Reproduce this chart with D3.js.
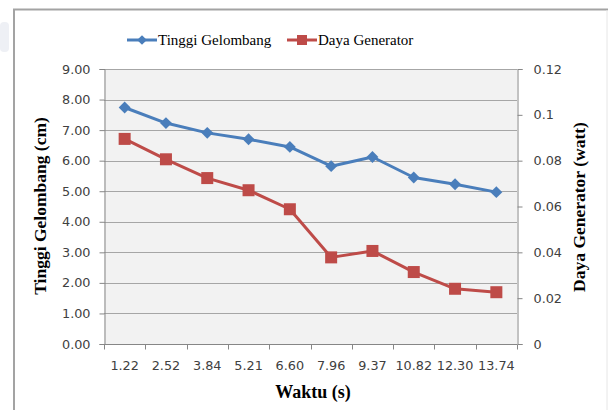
<!DOCTYPE html>
<html>
<head>
<meta charset="utf-8">
<script src="https://cdn.jsdelivr.net/npm/d3@7"></script>
<style>
  body { margin: 0; background: #fff; }
  svg { display: block; }
</style>
</head>
<body>
<div id="chart"></div>
<script>
const width = 608;
const height = 410;

// data
const waktu = ["1.22", "2.52", "3.84", "5.21", "6.60", "7.96", "9.37", "10.82", "12.30", "13.74"];
const tinggi = [7.74, 7.23, 6.91, 6.70, 6.45, 5.82, 6.12, 5.45, 5.23, 4.97];
const daya = [0.0895, 0.0806, 0.0724, 0.0671, 0.0588, 0.0378, 0.0406, 0.0314, 0.0241, 0.0226];
const leftTicks = [0, 1, 2, 3, 4, 5, 6, 7, 8, 9];
const rightTicks = [0, 0.02, 0.04, 0.06, 0.08, 0.1, 0.12];

const blue = "#4a7ebb";
const red = "#be4b48";
const tickFont = "Verdana, 'DejaVu Sans', sans-serif";
const serif = "'Liberation Serif', 'Times New Roman', serif";

const plot = { left: 104, right: 517, top: 69, bottom: 344 };

let svg = d3.select("#chart").append("svg").attr("width", width).attr("height", height);

// outer frame (only top / left visible in crop)
svg.append("path").attr("d", "M14,410 V9.5 H608").attr("fill", "none").attr("stroke", "#a3a3a3").attr("stroke-width", 2);
svg.append("line").attr("x1", 607).attr("x2", 607).attr("y1", 10).attr("y2", 410).attr("stroke", "#e6e6e6");

// faint logo smudge at left
svg.append("rect").attr("x", 0).attr("y", 22).attr("width", 9).attr("height", 30).attr("rx", 4).attr("fill", "#eef0f5");

const x = d3.scaleBand().domain(waktu).range([plot.left, plot.right]);
const yL = d3.scaleLinear().domain([0, 9]).range([plot.bottom, plot.top]);
const yR = d3.scaleLinear().domain([0, 0.12]).range([plot.bottom, plot.top]);

// plot background
svg.append("rect").attr("x", plot.left).attr("y", plot.top)
  .attr("width", plot.right - plot.left).attr("height", plot.bottom - plot.top).attr("fill", "#f2f2f2");

// gridlines
svg.append("g").selectAll("line").data(leftTicks.slice(1)).join("line")
  .attr("x1", plot.left).attr("x2", plot.right)
  .attr("y1", d => Math.round(yL(d)) + 0.5).attr("y2", d => Math.round(yL(d)) + 0.5)
  .attr("stroke", "#a6a6a6").attr("stroke-width", 1);

// left axis
const axL = svg.append("g").attr("transform", `translate(${plot.left + 0.5},0)`)
  .call(d3.axisLeft(yL).tickValues(leftTicks).tickFormat(d3.format(".2f")).tickSize(5).tickPadding(9));
// right axis
const axR = svg.append("g").attr("transform", `translate(${plot.right + 0.5},0)`)
  .call(d3.axisRight(yR).tickValues(rightTicks).tickFormat(d => d === 0 ? "0" : String(+d.toFixed(2))).tickSize(5).tickPadding(11));
// bottom axis
const axB = svg.append("g").attr("transform", `translate(0,${plot.bottom + 0.5})`)
  .call(d3.axisBottom(x).tickSize(0).tickPadding(16));
// boundary ticks for the category axis
axB.selectAll(".bnd").data(d3.range(waktu.length + 1)).join("line").attr("class", "bnd")
  .attr("x1", i => Math.round(plot.left + i * x.step()) + 0.5)
  .attr("x2", i => Math.round(plot.left + i * x.step()) + 0.5)
  .attr("y1", 0).attr("y2", 5).attr("stroke", "#868686");

[axL, axR, axB].forEach(a => {
  a.select(".domain").attr("stroke", "#868686");
  a.selectAll(".tick line").attr("stroke", "#868686");
  a.selectAll("text").attr("font-family", tickFont).attr("font-size", 12.8).attr("fill", "#404040");
});
axB.select(".domain").attr("d", `M${plot.left},0H${plot.right}`);

// lines
const lineL = d3.line().x((d, i) => x(waktu[i]) + x.bandwidth() / 2).y(d => yL(d));
const lineR = d3.line().x((d, i) => x(waktu[i]) + x.bandwidth() / 2).y(d => yR(d));

svg.append("path").datum(tinggi).attr("d", lineL).attr("fill", "none").attr("stroke", blue).attr("stroke-width", 3).attr("stroke-linejoin", "round");
svg.append("path").datum(daya).attr("d", lineR).attr("fill", "none").attr("stroke", red).attr("stroke-width", 3).attr("stroke-linejoin", "round");

const diamond = d3.symbol().type(d3.symbolDiamond2).size(90);
svg.append("g").selectAll("path").data(tinggi).join("path")
  .attr("transform", (d, i) => `translate(${x(waktu[i]) + x.bandwidth() / 2},${yL(d)})`)
  .attr("d", diamond).attr("fill", blue);
svg.append("g").selectAll("rect").data(daya).join("rect")
  .attr("x", (d, i) => x(waktu[i]) + x.bandwidth() / 2 - 6)
  .attr("y", d => yR(d) - 6)
  .attr("width", 12).attr("height", 12).attr("fill", red);

// axis titles
svg.append("text").attr("transform", "translate(46,206) rotate(-90)").attr("text-anchor", "middle")
  .attr("font-family", serif).attr("font-weight", "bold").attr("font-size", 17.5).attr("fill", "#000")
  .text("Tinggi Gelombang (cm)");
svg.append("text").attr("transform", "translate(585,207) rotate(-90)").attr("text-anchor", "middle")
  .attr("font-family", serif).attr("font-weight", "bold").attr("font-size", 17.5).attr("fill", "#000")
  .text("Daya Generator (watt)");
svg.append("text").attr("x", 313).attr("y", 398).attr("text-anchor", "middle")
  .attr("font-family", serif).attr("font-weight", "bold").attr("font-size", 18).attr("fill", "#000")
  .text("Waktu (s)");

// legend
const legend = [
  { name: "Tinggi Gelombang", color: blue, x: 127, shape: "diamond" },
  { name: "Daya Generator", color: red, x: 287, shape: "square" }
];
const lg = svg.append("g").selectAll("g").data(legend).join("g").attr("transform", d => `translate(${d.x},40)`);
lg.append("line").attr("x1", 0).attr("x2", 30).attr("stroke", d => d.color).attr("stroke-width", 3);
lg.filter(d => d.shape === "diamond").append("path").attr("transform", "translate(15,0)").attr("d", d3.symbol().type(d3.symbolDiamond2).size(60)).attr("fill", blue);
lg.filter(d => d.shape === "square").append("rect").attr("x", 10).attr("y", -5).attr("width", 10).attr("height", 10).attr("fill", red);
lg.append("text").attr("x", 31).attr("y", 5).attr("font-family", serif).attr("font-size", 15).attr("fill", "#000").text(d => d.name);
</script>
</body>
</html>
